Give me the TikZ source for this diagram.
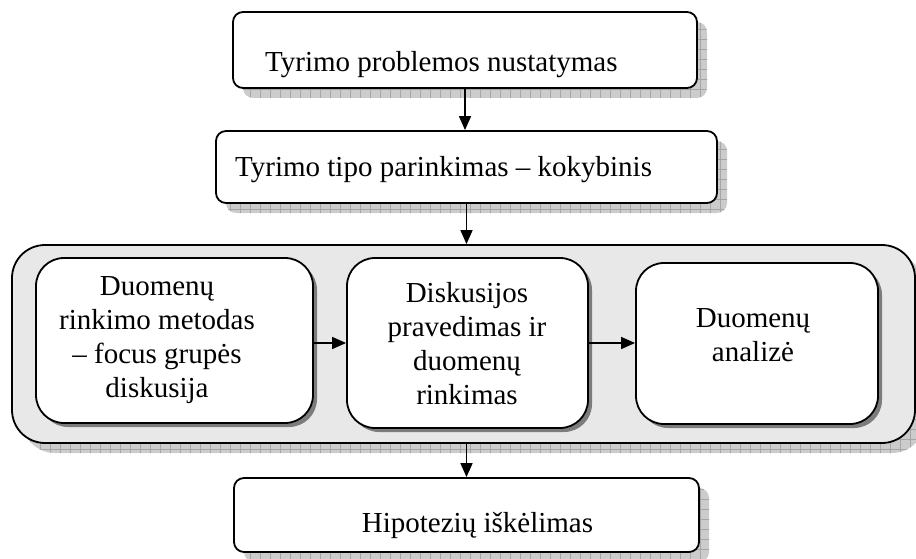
\documentclass[tikz,border=0pt]{standalone}
\usepackage{fontspec}
\setmainfont{Liberation Serif}
\usetikzlibrary{arrows.meta,shadows,patterns.meta}

\definecolor{panelgray}{HTML}{E8E8E8}
\definecolor{shadowbase}{HTML}{CCCCCC}
\definecolor{shadowgrid}{HTML}{A6A6A6}
\definecolor{innershadow}{HTML}{7C7C7C}

\tikzset{
  gridshadow/.style={
    general shadow={shadow xshift=10pt,shadow yshift=-10pt,fill=shadowbase},
    general shadow={shadow xshift=10pt,shadow yshift=-10pt,
      pattern={Lines[angle=0,distance=10pt,line width=0.6pt]},pattern color=shadowgrid},
    general shadow={shadow xshift=10pt,shadow yshift=-10pt,
      pattern={Lines[angle=90,distance=10pt,line width=0.6pt]},pattern color=shadowgrid}
  },
  stagebox/.style={draw=black,line width=1.8pt,fill=white,rectangle,
    rounded corners=10pt,inner sep=0pt,gridshadow},
  panelbox/.style={draw=black,line width=1.8pt,fill=panelgray,rectangle,
    rounded corners=33pt,inner sep=0pt,gridshadow},
  innerbox/.style={draw=black,line width=1.8pt,fill=white,rectangle,
    rounded corners=28pt,inner sep=0pt,
    general shadow={shadow xshift=4pt,shadow yshift=-4pt,fill=innershadow}},
  lbl/.style={inner sep=0pt,font=\fontsize{29}{34}\selectfont},
  mlbl/.style={lbl,align=center},
  arr/.style={line width=1.5pt,-{Triangle[length=14pt,width=12pt]}}
}

\begin{document}
\begin{tikzpicture}[x=1pt,y=-1pt]
  \useasboundingbox (0,0) rectangle (916,559);

  % top stages
  \node[stagebox,minimum width=464pt,minimum height=76pt] (b1) at (465,50) {};
  \node[stagebox,minimum width=501pt,minimum height=72pt] (b2) at (466.5,167) {};

  % grouped panel with three steps
  \node[panelbox,minimum width=903pt,minimum height=198pt] (c) at (463.5,344) {};
  \node[innerbox,minimum width=277pt,minimum height=165pt] (i1) at (174.5,340.5) {};
  \node[innerbox,minimum width=241pt,minimum height=170pt] (i2) at (467.5,343) {};
  \node[innerbox,minimum width=242pt,minimum height=161pt] (i3) at (757,343.5) {};

  % final stage
  \node[stagebox,minimum width=465pt,minimum height=74pt] (b4) at (466.5,515) {};

  % texts (multi-line labels are anchored on their last baseline)
  \node[lbl,anchor=base west] (t1) at (265,72) {Tyrimo problemos nustatymas};
  \node[lbl,anchor=base west] (t2) at (235,176) {Tyrimo tipo parinkimas – kokybinis};
  \node[mlbl,anchor=base] (ti1) at (157,397) {Duomenų\\rinkimo metodas\\– focus grupės\\diskusija};
  \node[mlbl,anchor=base] (ti2) at (467,404) {Diskusijos\\pravedimas ir\\duomenų\\rinkimas};
  \node[mlbl,anchor=base] (ti3) at (753,361) {Duomenų\\analizė};
  \node[lbl,anchor=base] (t4) at (477.5,532) {Hipotezių iškėlimas};

  % connectors
  \draw[arr] (b1.south) -- (b1.south |- b2.north);
  \draw[arr] (b2.south) -- (b2.south |- c.north);
  \draw[arr] ([yshift=-2.5pt]i1.east) -- ([yshift=-2.5pt]i1.east -| i2.west);
  \draw[arr] (i2.east) -- (i2.east -| i3.west);
  \draw[arr] (c.south -| b4.north) -- (b4.north);
\end{tikzpicture}
\end{document}
